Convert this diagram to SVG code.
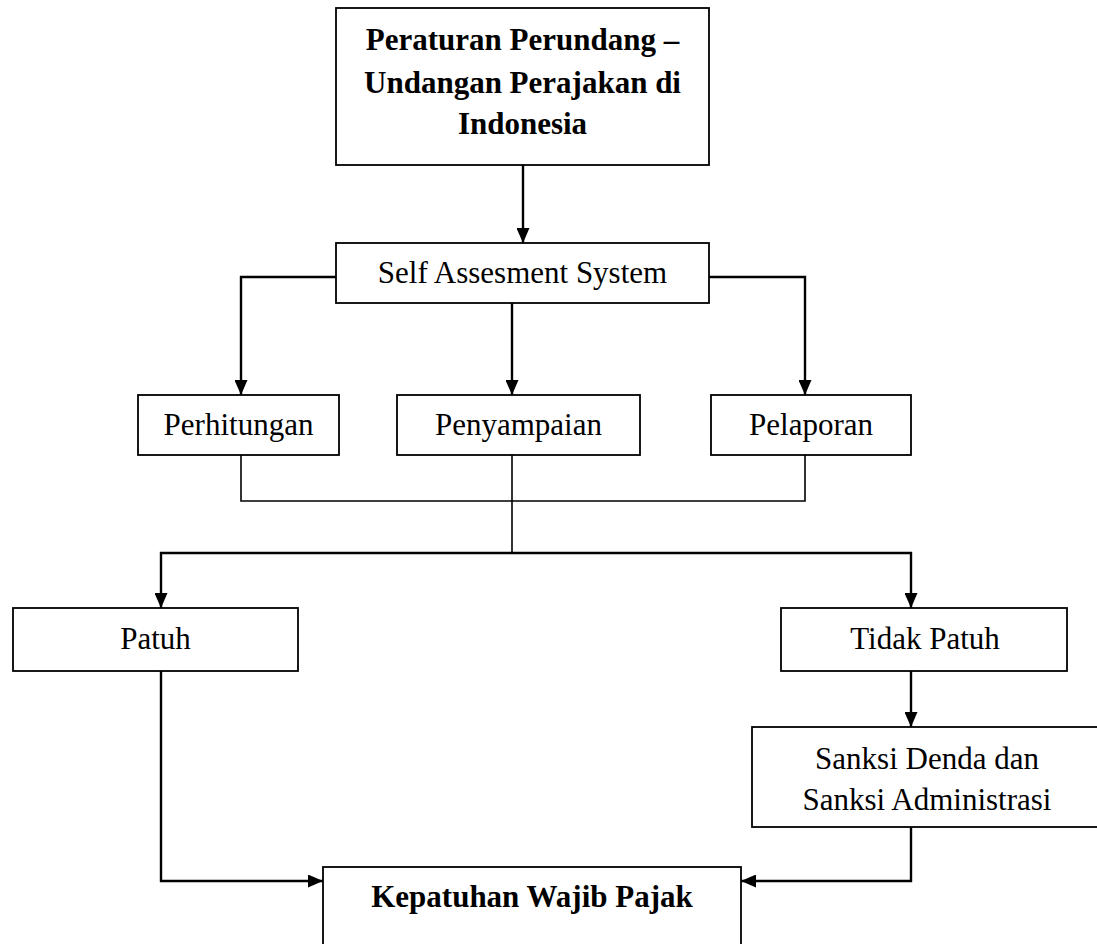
<svg xmlns="http://www.w3.org/2000/svg" width="1097" height="944" viewBox="0 0 1097 944">
<style>
.box{fill:#fff;stroke:#000;stroke-width:1.8}
.t{font-family:"Liberation Serif","Times New Roman",serif;font-size:31px;fill:#000;text-anchor:middle}
.b{font-weight:bold}
.ln{fill:none;stroke:#000;stroke-width:1.6}
.ar{fill:none;stroke:#000;stroke-width:2.4}
</style>
<defs>
<marker id="ah" markerWidth="15" markerHeight="13" refX="15" refY="6.5" orient="auto" markerUnits="userSpaceOnUse">
<path d="M0,0 L15,6.5 L0,13 Z" fill="#000"/>
</marker>
</defs>
<rect width="1097" height="944" fill="#fff"/>
<g id="connectors">
<path class="ar" d="M523,165 V243" marker-end="url(#ah)"/>
<path class="ar" d="M336,277 H241 V395" marker-end="url(#ah)"/>
<path class="ar" d="M512,303 V395" marker-end="url(#ah)"/>
<path class="ar" d="M709,277 H805 V395" marker-end="url(#ah)"/>
<path class="ln" d="M241,455 V501 H805 V455"/>
<path class="ln" d="M512,455 V553"/>
<path class="ar" d="M512,553 H161 V608" marker-end="url(#ah)"/>
<path class="ar" d="M512,553 H911 V608" marker-end="url(#ah)"/>
<path class="ar" d="M911,671 V727" marker-end="url(#ah)"/>
<path class="ar" d="M161,671 V881 H323" marker-end="url(#ah)"/>
<path class="ar" d="M911,827 V881 H741" marker-end="url(#ah)"/>
</g>
<g id="node-peraturan">
<rect class="box" x="336" y="8" width="373" height="157"/>
<text class="t b" x="522.5" y="50">Peraturan Perundang –</text>
<text class="t b" x="522.5" y="93">Undangan Perajakan di</text>
<text class="t b" x="522.5" y="134">Indonesia</text>
</g>
<g id="node-sas">
<rect class="box" x="336" y="243" width="373" height="60"/>
<text class="t" x="522.5" y="283">Self Assesment System</text>
</g>
<g id="node-perhitungan">
<rect class="box" x="138" y="395" width="201" height="60"/>
<text class="t" x="238.5" y="435">Perhitungan</text>
</g>
<g id="node-penyampaian">
<rect class="box" x="397" y="395" width="243" height="60"/>
<text class="t" x="518.5" y="435">Penyampaian</text>
</g>
<g id="node-pelaporan">
<rect class="box" x="711" y="395" width="200" height="60"/>
<text class="t" x="811" y="435">Pelaporan</text>
</g>
<g id="node-patuh">
<rect class="box" x="13" y="608" width="285" height="63"/>
<text class="t" x="155.5" y="649">Patuh</text>
</g>
<g id="node-tidak-patuh">
<rect class="box" x="781" y="608" width="286" height="63"/>
<text class="t" x="925" y="649">Tidak Patuh</text>
</g>
<g id="node-sanksi">
<rect class="box" x="752" y="727" width="360" height="100"/>
<text class="t" x="927" y="769">Sanksi Denda dan</text>
<text class="t" x="927" y="810">Sanksi Administrasi</text>
</g>
<g id="node-kepatuhan">
<rect class="box" x="323" y="867" width="418" height="100"/>
<text class="t b" x="532" y="907">Kepatuhan Wajib Pajak</text>
</g>
</svg>
